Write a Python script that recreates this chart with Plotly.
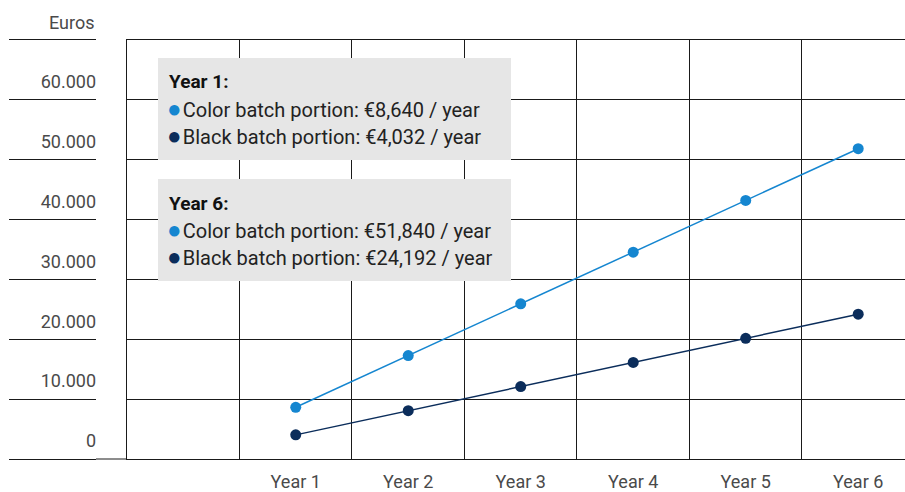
import plotly.graph_objects as go

years = ["Year 1", "Year 2", "Year 3", "Year 4", "Year 5", "Year 6"]
year_pos = [1, 2, 3, 4, 5, 6]
color_batch = [8640, 17280, 25920, 34560, 43200, 51840]
black_batch = [4032, 8064, 12096, 16128, 20160, 24192]
y_ticks = [0, 10000, 20000, 30000, 40000, 50000, 60000, 70000]
y_ticktext = ["0", "10.000", "20.000", "30.000", "40.000", "50.000", "60.000", ""]
y_title = "Euros"
box_year1 = ["Year 1:", "Color batch portion: €8,640 / year", "Black batch portion: €4,032 / year"]
box_year6 = ["Year 6:", "Color batch portion: €51,840 / year", "Black batch portion: €24,192 / year"]

LIGHT = "#1586d0"
NAVY = "#0b2d5b"
LINE = "#1a1a1a"
TXT = "#4a4a4a"
FONT = "Roboto"
W, H = 905, 492

def px(x):
    return x / W

def py(y):
    return 1 - y / H

fig = go.Figure()
fig.add_trace(go.Scatter(x=year_pos, y=color_batch, mode="lines+markers",
                         line=dict(color=LIGHT, width=1.5),
                         marker=dict(color=LIGHT, size=11), name="Color", showlegend=False,
                         xaxis="x", yaxis="y"))
fig.add_trace(go.Scatter(x=year_pos, y=black_batch, mode="lines+markers",
                         line=dict(color=NAVY, width=1.5),
                         marker=dict(color=NAVY, size=11), name="Black", showlegend=False,
                         xaxis="x", yaxis="y"))

ydom = [33 / H, 452 / H]
yr = [0, 70000]

annotations = []
shapes = []

# legend boxes
def add_box(top, lines):
    shapes.append(dict(type="rect", xref="paper", yref="paper",
                       x0=px(158), x1=px(511), y0=py(top + 102), y1=py(top),
                       fillcolor="#e6e6e6", line=dict(width=0), layer="above"))
    ys = [top + 24, top + 51, top + 78]
    annotations.append(dict(xref="paper", yref="paper", x=px(167), y=py(ys[0]),
                            xanchor="left", yanchor="middle", showarrow=False,
                            text="<b>" + lines[0] + "</b>",
                            font=dict(family=FONT, size=19, color="#111111")))
    for yy, t, c in [(ys[1], lines[1], LIGHT), (ys[2], lines[2], NAVY)]:
        annotations.append(dict(xref="paper", yref="paper", x=px(165), y=py(yy),
                                xanchor="left", yanchor="middle", showarrow=False,
                                text="<span style='color:%s;font-size:24px'>●</span><span style='font-size:5px'> </span>%s" % (c, t),
                                font=dict(family=FONT, size=20, color="#222222")))

add_box(58, box_year1)
add_box(179, box_year6)

annotations.append(dict(xref="paper", yref="y2", x=px(96), y=70000, xanchor="right",
                        yanchor="middle", yshift=18, showarrow=False, text=y_title,
                        font=dict(family=FONT, size=18, color=TXT)))

# gap in bottom line between label area and plot area
shapes.append(dict(type="line", xref="paper", yref="paper", x0=px(96), x1=px(127),
                   y0=ydom[0], y1=ydom[0], line=dict(color=LINE, width=1)))

fig.update_layout(
    width=W, height=H,
    margin=dict(l=0, r=0, t=0, b=0),
    paper_bgcolor="white", plot_bgcolor="white",
    showlegend=False,
    xaxis=dict(domain=[px(127), 1], range=[-0.5, 6.416], tickmode="array",
               tickvals=year_pos, ticktext=years, showgrid=False, zeroline=False,
               showline=True, mirror=True, linecolor=LINE, linewidth=1,
               ticks="", ticklabelstandoff=6,
               tickfont=dict(family=FONT, size=18, color=TXT),
               minor=dict(tickmode="array", tickvals=[0.5, 1.5, 2.5, 3.5, 4.5, 5.5],
                          showgrid=True, gridcolor=LINE, gridwidth=1, ticks=""),
               anchor="y", automargin=False),
    yaxis=dict(domain=ydom, range=yr, tickmode="array", tickvals=y_ticks,
               showticklabels=False, showgrid=True, gridcolor=LINE, gridwidth=1,
               zeroline=False, showline=True, linecolor=LINE, linewidth=1,
               anchor="x", automargin=False),
    xaxis2=dict(domain=[px(9), px(96)], range=[0, 1], showgrid=False, zeroline=False,
                showticklabels=False, showline=True, mirror=True, linecolor=LINE,
                linewidth=1, anchor="y2", automargin=False, fixedrange=True),
    yaxis2=dict(domain=ydom, range=yr, tickmode="array", tickvals=y_ticks,
                ticktext=y_ticktext, showgrid=True, gridcolor=LINE, gridwidth=1,
                zeroline=False, showline=False, side="right", ticklabelposition="inside",
                ticklabelshift=-18, ticklabelstandoff=-3, ticks="",
                tickfont=dict(family=FONT, size=18, color=TXT),
                anchor="x2", automargin=False),
    shapes=shapes,
    annotations=annotations,
)

fig.write_html("out.html", config={"displayModeBar": False},
               post_script="document.body.style.margin='0';")
